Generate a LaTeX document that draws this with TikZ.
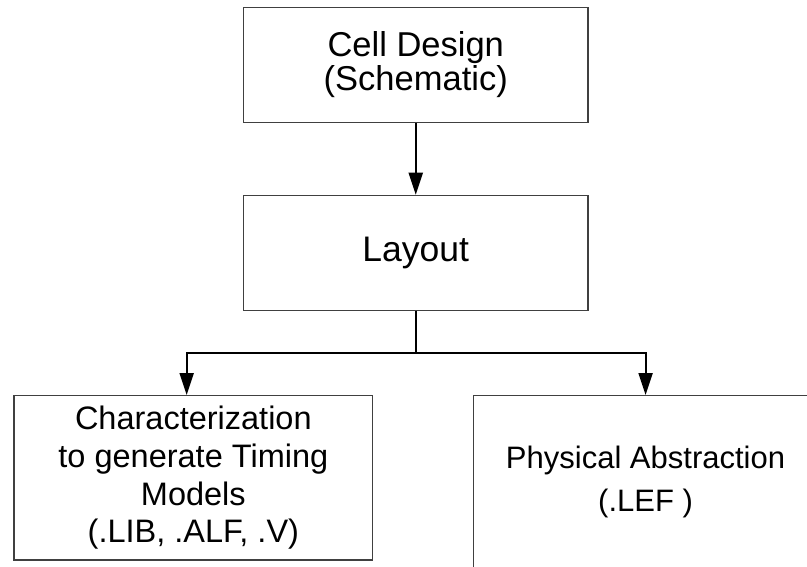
\documentclass[tikz,border=0pt]{standalone}
\usepackage{fontspec}
\setmainfont{Liberation Sans}
\usetikzlibrary{positioning}
\usetikzlibrary{arrows.meta}

\begin{document}
\begin{tikzpicture}[
      box/.style={draw=black!75, line width=1.2pt, minimum width=344.5pt,
         minimum height=115pt, align=center, inner sep=0pt},
      flow/.style={line width=2pt, -{Triangle[length=22pt,width=14pt]}}
   ]
   \clip (0,0) rectangle (807pt,-566pt);

   \node[box, font=\fontsize{34.5}{34}\selectfont] (cell) at (415.75pt,-65pt)
      {Cell Design\\(Schematic)};
   \node[box, below=71.6pt of cell, font=\fontsize{35.5}{36}\selectfont] (lay) {Layout};
   \coordinate[below=42.4pt of lay] (split);

   \node[box, anchor=north, minimum width=358.7pt, minimum height=164.3pt,
      font=\fontsize{32.5}{37.8}\selectfont] (char) at (193.35pt,-395pt)
      {Characterization\\to generate Timing\\Models\\(.LIB, .ALF, .V)};
   \node[box, anchor=north, minimum height=173pt,
      font=\fontsize{31}{43}\selectfont] (phys) at (645.55pt,-395pt)
      {Physical Abstraction\\(.LEF )};

   \draw[flow] (cell) -- (lay);
   \draw[flow] (lay.south) -- (split) -| ([xshift=-6.65pt]char.north);
   \draw[flow] (split) -| (phys.north);
\end{tikzpicture}
\end{document}
